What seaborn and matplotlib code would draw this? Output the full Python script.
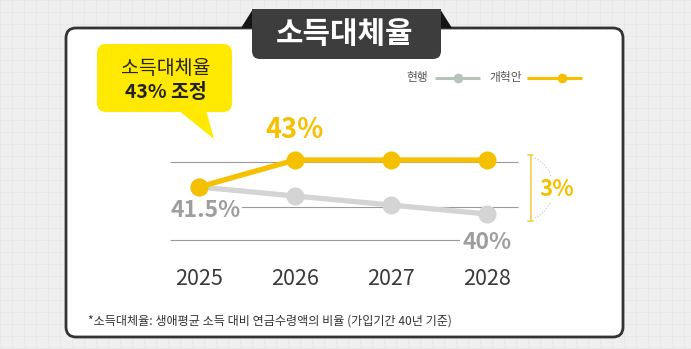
import matplotlib
matplotlib.use("Agg")
import matplotlib.pyplot as plt
from matplotlib.patches import FancyBboxPatch, Polygon, Arc
import seaborn as sns
import pandas as pd

# ---- data ----
years = ["2025", "2026", "2027", "2028"]
current = [41.5, 41.0, 40.5, 40.0]      # 현행
reform = [41.5, 43.0, 43.0, 43.0]       # 개혁안
series_names = ["현행", "개혁안"]
title = "소득대체율"
bubble_lines = ["소득대체율", "43% 조정"]
footnote = "*소득대체율: 생애평균 소득 대비 연금수령액의 비율 (가입기간 40년 기준)"
gap_label = "3%"

sns.set_theme(style="white")
FONT = ["Noto Sans CJK KR", "DejaVu Sans"]
plt.rcParams["font.family"] = FONT

W, H = 691, 349
fig = plt.figure(figsize=(W / 100, H / 100), dpi=100)
fig.patch.set_facecolor("#efefef")

bg = fig.add_axes([0, 0, 1, 1])
bg.set_xlim(0, W)
bg.set_ylim(H, 0)
bg.axis("off")

for gx in range(0, W, 12):
    bg.axvline(gx, color="#e6e6e6", lw=0.5, zorder=0)
for gy in range(0, H, 12):
    bg.axhline(gy, color="#e6e6e6", lw=0.5, zorder=0)

# card
bg.add_patch(FancyBboxPatch((66, 28), 557, 309, boxstyle="round,pad=0,rounding_size=10",
                            fc="white", ec="#333333", lw=2, zorder=1))

# title tab
bg.add_patch(Polygon([(241, 28), (253, 9), (253, 28)], closed=True, fc="#151515", ec="none", zorder=2))
bg.add_patch(Polygon([(452, 28), (440, 9), (440, 28)], closed=True, fc="#151515", ec="none", zorder=2))
bg.add_patch(FancyBboxPatch((252, 9), 189, 50, boxstyle="round,pad=0,rounding_size=8",
                            fc="#3d3d3d", ec="none", zorder=3))
bg.add_patch(plt.Rectangle((252, 9), 189, 15, fc="#3d3d3d", ec="none", zorder=3))
bg.text(345, 34, title, color="white", fontsize=21.5, fontweight="bold",
        ha="center", va="center", zorder=4, family=FONT)

# speech bubble
bg.add_patch(FancyBboxPatch((97, 44), 135, 68, boxstyle="round,pad=0,rounding_size=9",
                            fc="#ffe900", ec="none", zorder=2))
bg.add_patch(Polygon([(178, 110), (214, 139), (206, 110)], closed=True, fc="#ffe900", ec="none", zorder=2))
bg.text(166, 68, bubble_lines[0], color="#222222", fontsize=14, fontweight="medium",
        ha="center", va="center", zorder=3, family=FONT)
bg.text(166, 92, bubble_lines[1], color="#222222", fontsize=14, fontweight="bold",
        ha="center", va="center", zorder=3, family=FONT)

# legend
bg.text(428, 78, series_names[0], color="#555555", fontsize=8.5, ha="right", va="center", zorder=3)
bg.plot([435, 480], [78, 78], color="#b9c4b9", lw=2.2, zorder=3, solid_capstyle="butt")
bg.plot([458], [78], "o", color="#b9c4b9", ms=7, mew=0, zorder=4)
bg.text(522, 78, series_names[1], color="#555555", fontsize=8.5, ha="right", va="center", zorder=3)
bg.plot([527, 582], [78, 78], color="#f5c000", lw=2.2, zorder=3, solid_capstyle="butt")
bg.plot([562], [78], "o", color="#f5c000", ms=7, mew=0, zorder=4)

# bracket + gap label
bcol = "#f3d25a"
bg.plot([531, 531], [155, 221], color=bcol, lw=1.3, zorder=3)
bg.plot([528.5, 533.5], [155, 155], color=bcol, lw=1.3, zorder=3)
bg.plot([528.5, 533.5], [221, 221], color=bcol, lw=1.3, zorder=3)
bg.add_patch(Arc((525, 188), 56, 64, theta1=-72, theta2=72, color="#cccccc", lw=0.7,
                 ls=(0, (1.5, 1.5)), zorder=2))
bg.text(557, 189, gap_label, color="#f5c000", fontsize=16, fontweight="bold",
        ha="center", va="center", zorder=4, family=FONT,
        bbox=dict(fc="white", ec="none", pad=1))

# footnote
bg.text(88, 321, footnote, color="#333333", fontsize=8.7, ha="left", va="center", zorder=3)

# ---- data axes ----
ax = fig.add_axes([150 / W, 1 - 262 / H, 390 / W, 142 / H])
ax.patch.set_alpha(0)
ax.set_zorder(5)
px_per_x = 96.0
px_per_y = 18.0
ax.set_xlim((150 - 199) / px_per_x, (540 - 199) / px_per_x)
ax.set_ylim(43 - (262 - 160) / px_per_y, 43 + (160 - 120) / px_per_y)

df = pd.DataFrame({
    "idx": list(range(len(years))) * 2,
    "value": current + reform,
    "series": [series_names[0]] * len(years) + [series_names[1]] * len(years),
})

for gv, xend in [(42.9, 518), (40.4, 518), (38.55, 460)]:
    ax.hlines(gv, (170 - 199) / px_per_x, (xend - 199) / px_per_x, color="#9a9a9a", lw=0.8, zorder=1)

sns.lineplot(data=df, x="idx", y="value", hue="series", hue_order=series_names,
             palette={series_names[0]: "#d4d4d4", series_names[1]: "#f5c000"},
             marker="o", markersize=13, markeredgewidth=0, linewidth=3.8,
             legend=False, ax=ax, zorder=3)

ax.set_xticks(range(len(years)))
ax.set_xticklabels(years, fontsize=15.5, color="#3a3a3a")
ax.tick_params(axis="x", length=0, pad=4)
ax.set_yticks([])
ax.set_xlabel("")
ax.set_ylabel("")
for s in ax.spines.values():
    s.set_visible(False)

wb = dict(fc="white", ec="none", pad=1.5)
ax.text(1, reform[1] + 30 / px_per_y, "43%", color="#f5c000", fontsize=19.5, fontweight="bold",
        ha="center", va="center", zorder=4)
ax.text(0.065, reform[0] - 23 / px_per_y, "41.5%", color="#9e9e9e", fontsize=16.5, fontweight="bold",
        ha="center", va="center", zorder=2, bbox=wb)
ax.text(3, current[3] - 28 / px_per_y, "40%", color="#9e9e9e", fontsize=16.5, fontweight="bold",
        ha="center", va="center", zorder=2, bbox=wb)

fig.savefig("out.png", dpi=100, facecolor=fig.get_facecolor())
